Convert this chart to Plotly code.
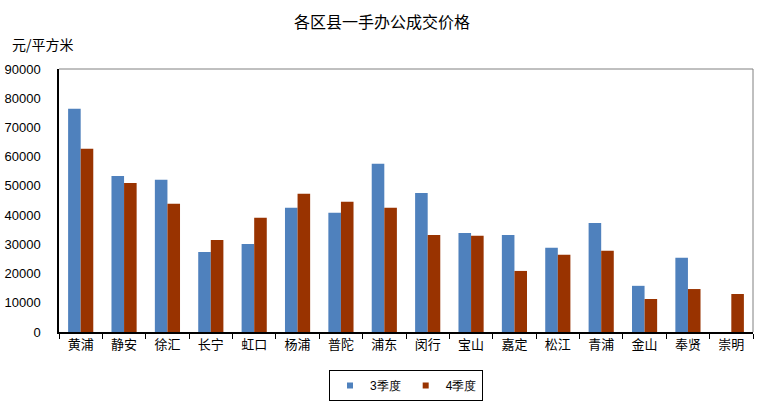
import plotly.graph_objects as go

categories = ["黄浦", "静安", "徐汇", "长宁", "虹口", "杨浦", "普陀", "浦东", "闵行", "宝山",
              "嘉定", "松江", "青浦", "金山", "奉贤", "崇明"]
q3 = [76400, 53400, 52100, 27400, 30100, 42500, 40800, 57600, 47600, 33900,
      33200, 28800, 37300, 15800, 25400, None]
q4 = [62700, 51000, 43900, 31500, 39100, 47300, 44600, 42500, 33200, 32900,
      20900, 26400, 27800, 11300, 14700, 13000]
y_ticks = [0, 10000, 20000, 30000, 40000, 50000, 60000, 70000, 80000, 90000]
series_names = ["3季度", "4季度"]
series_colors = ["#4F81BD", "#993300"]

CJK = "Noto Sans CJK SC"
LAT = "Liberation Sans, Arial"

fig = go.Figure()
for name, vals, col in zip(series_names, [q3, q4], series_colors):
    fig.add_trace(go.Bar(name=name, x=categories, y=vals, marker_color=col,
                         marker_line_width=0, showlegend=False))
for name, col in zip(series_names, series_colors):
    fig.add_trace(go.Scatter(name=name, x=[None], y=[None], mode="markers",
                             marker=dict(symbol="square", size=6, color=col), showlegend=True))

fig.update_layout(
    width=764, height=404,
    margin=dict(l=59, r=11, t=69, b=72, autoexpand=False),
    paper_bgcolor="white", plot_bgcolor="white",
    barmode="group", bargap=0.42, bargroupgap=0,
    title=dict(text="各区县一手办公成交价格", x=0.5, xanchor="center", y=1 - 22 / 404, yanchor="middle",
               font=dict(family=CJK, size=16, color="black")),
    showlegend=True,
    legend=dict(orientation="h", x=0.5, xanchor="center", yref="container", y=1 - 370 / 404,
                yanchor="top", bordercolor="black", borderwidth=1, bgcolor="white",
                font=dict(family=LAT, size=12, color="black"),
                itemwidth=30, traceorder="normal", tracegroupgap=0),
    font=dict(family=LAT, size=12, color="black"),
)
fig.update_xaxes(
    type="category", showline=True, linecolor="black", linewidth=1.5, automargin=False,
    ticks="outside", tickson="boundaries", ticklen=5, tickcolor="black",
    tickfont=dict(family=CJK, size=13, color="black"), showgrid=False, mirror=False,
)
fig.update_yaxes(
    range=[0, 90000], tickvals=y_ticks, ticktext=[str(v) for v in y_ticks], automargin=False,
    showline=True, linecolor="black", linewidth=1.5, ticks="", showgrid=False,
    tickfont=dict(family=LAT, size=13, color="black"), ticklabelstandoff=14, zeroline=False,
)
fig.add_shape(type="line", xref="paper", yref="paper", x0=0, x1=1, y0=1, y1=1,
              line=dict(color="#808080", width=1))
fig.add_shape(type="line", xref="paper", yref="paper", x0=1, x1=1, y0=0, y1=1,
              line=dict(color="#808080", width=1))
fig.add_annotation(text="元/平方米", xref="paper", yref="paper", x=(10 - 59) / 694, y=(332 - 44) / 263,
                   xanchor="left", yanchor="middle", showarrow=False,
                   font=dict(family=CJK, size=14, color="black"))

fig.write_html("out.html", config={"displayModeBar": False},
               post_script="document.body.style.margin='0';document.body.style.overflow='hidden';")
